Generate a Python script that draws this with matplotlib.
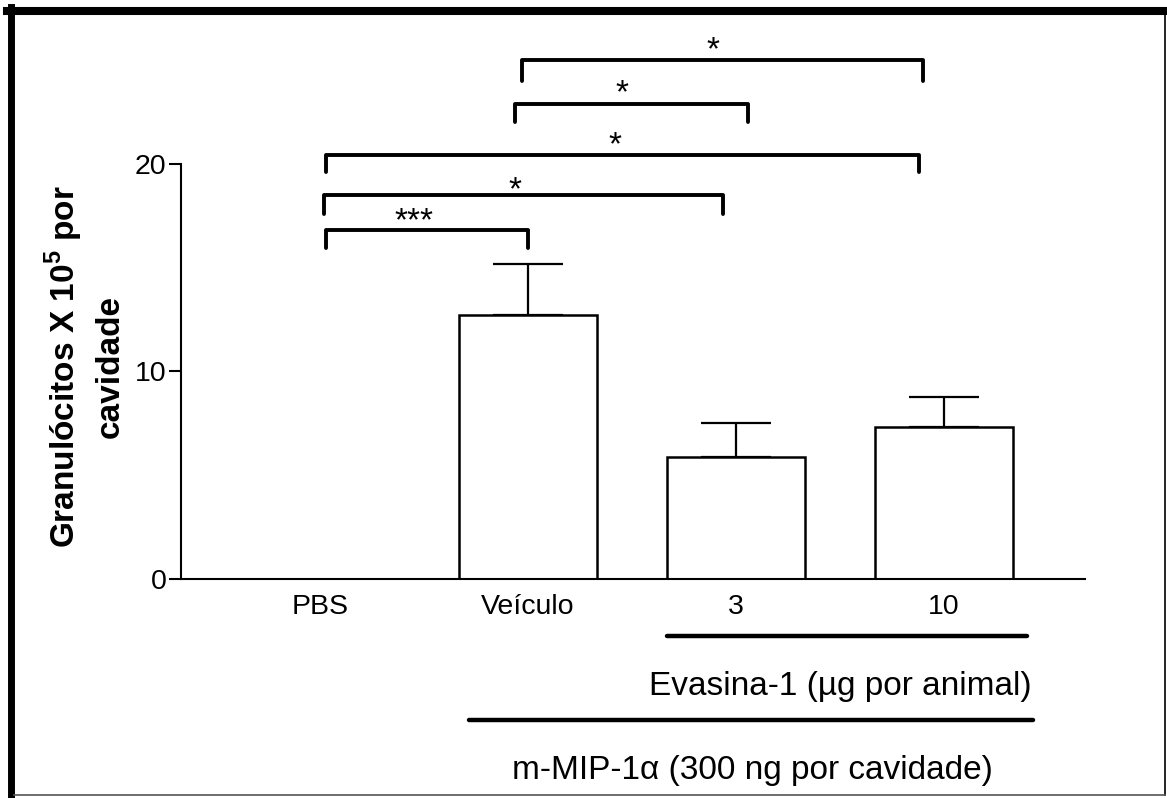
import numpy as np
import matplotlib
matplotlib.use("Agg")
import matplotlib.pyplot as plt
from matplotlib.lines import Line2D

plt.rcParams['font.family'] = ['Liberation Sans', 'DejaVu Sans']
plt.rcParams['mathtext.fontset'] = 'custom'
plt.rcParams['mathtext.rm'] = 'Liberation Sans'
plt.rcParams['mathtext.bf'] = 'Liberation Sans:bold'

# data
groups = ["PBS", "Veículo", "3", "10"]
means = [0.0, 12.7, 5.87, 7.31]
sem = [0.0, 2.45, 1.63, 1.44]

# significance brackets: (x_left, x_right, y_line, y_tick_end, label, x_label, y_label)
brackets = [
    (0.03, 1.0, 16.8, 15.95, "***", 0.45, 17.2),
    (0.02, 1.94, 18.5, 17.6, "*", 0.94, 18.7),
    (0.03, 2.88, 20.4, 19.6, "*", 1.42, 20.87),
    (0.94, 2.06, 22.9, 22.0, "*", 1.45, 23.37),
    (0.97, 2.9, 25.0, 24.0, "*", 1.89, 25.43),
]

fig = plt.figure(figsize=(11.67, 7.98), dpi=100)
ax = fig.add_axes([0.1551, 0.2744, 0.7746, 0.7156])

x = np.arange(len(groups))
ax.bar(x, means, width=0.663, color="white", edgecolor="black", linewidth=1.8, zorder=2)
ax.errorbar(x[1:], means[1:], yerr=[np.zeros(3), sem[1:]], fmt="none",
            ecolor="black", elinewidth=1.6, capsize=25.5, capthick=1.6, zorder=1)

for x0, x1, yl, yt, lab, xt, ylab in brackets:
    ax.plot([x0, x0, x1, x1], [yt, yl, yl, yt], color="black", lw=2.8,
            solid_joinstyle="round", solid_capstyle="round", clip_on=False)
    ax.text(xt, ylab, lab, ha="center", va="center", fontsize=24, clip_on=False)

ax.set_xlim(-0.668, 3.678)
ax.set_ylim(0, 27.5)
ax.set_yticks([0, 10, 20])
ax.tick_params(axis="y", labelsize=20.5, length=8.5, width=1.5, pad=2)
ax.set_xticks(x)
ax.set_xticklabels(groups)
ax.tick_params(axis="x", labelsize=20.5, length=0, pad=11)
ax.spines["top"].set_visible(False)
ax.spines["right"].set_visible(False)
ax.spines["left"].set_bounds(0, 20)
ax.spines["left"].set_linewidth(1.5)
ax.spines["bottom"].set_linewidth(1.5)

# group lines and labels below the axis
fig.add_artist(Line2D([667/1167, 1027/1167], [1-636/798, 1-636/798], color="black", lw=3.2, solid_capstyle="round"))
fig.text(840/1167, 1-686/798, "Evasina-1 (µg por animal)", ha="center", va="center", fontsize=24)
fig.add_artist(Line2D([469/1167, 1033/1167], [1-720/798, 1-720/798], color="black", lw=3.2, solid_capstyle="round"))
fig.text(752/1167, 1-770/798, "m-MIP-1α (300 ng por cavidade)", ha="center", va="center", fontsize=24)

fig.text(0.072, 1-367/798, "Granulócitos X 10$^{\\mathbf{5}}$ por\ncavidade", rotation=90,
         ha="center", va="center", fontsize=24, fontweight="bold", multialignment="center",
         linespacing=1.4)

# frame around the figure
fig.add_artist(Line2D([7/1167, 1], [1-11/798, 1-11/798], color="black", lw=5.8))
fig.add_artist(Line2D([10.5/1167, 10.5/1167], [0, 1-7/798], color="black", lw=5.0))
fig.add_artist(Line2D([1165/1167, 1165/1167], [0.004, 1-14/798], color="black", lw=1.2))
fig.add_artist(Line2D([14/1167, 1165/1167], [1-795/798, 1-795/798], color="#555555", lw=1.2))

fig.savefig("out.png", dpi=100)
